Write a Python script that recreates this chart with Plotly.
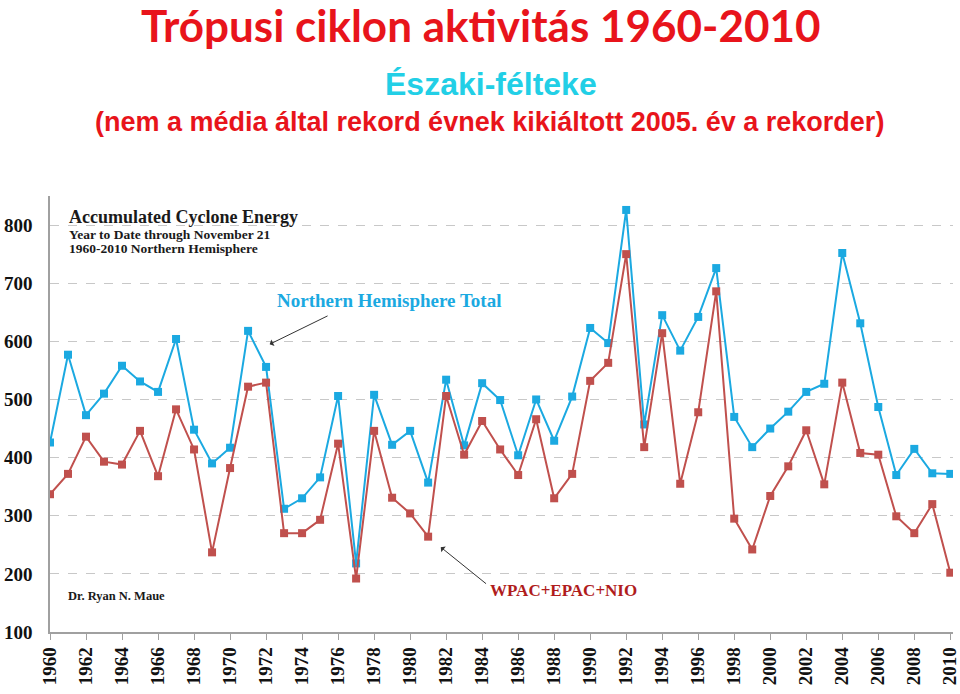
import plotly.graph_objects as go

years = list(range(1960, 2011))
nh_total = [426, 577, 473, 510, 558, 531, 513, 604, 448, 390,
            417, 618, 556, 312, 330, 366, 506, 218, 508, 422,
            446, 357, 534, 421, 528, 499, 404, 500, 429, 505,
            623, 597, 826, 457, 645, 584, 642, 726, 470, 418,
            450, 479, 513, 527, 752, 631, 487, 370, 415, 373, 372]
wpac_epac_nio = [337, 372, 436, 393, 388, 446, 368, 483, 414, 237,
                 382, 522, 529, 270, 270, 293, 424, 192, 446, 331,
                 304, 264, 506, 405, 463, 414, 370, 466, 330, 372,
                 532, 563, 750, 418, 614, 355, 478, 686, 295, 242,
                 334, 385, 447, 354, 529, 408, 405, 299, 270, 320, 202]
tick_years = list(range(1960, 2011, 2))
y_ticks = [100, 200, 300, 400, 500, 600, 700, 800]

BLUE = "#1BA9E1"
RED = "#C0504D"
SERIF = "Liberation Serif, DejaVu Serif, serif"

fig = go.Figure()
fig.add_trace(go.Scatter(x=years, y=nh_total, mode="lines+markers",
                         line=dict(color=BLUE, width=2),
                         marker=dict(symbol="square", size=8, color=BLUE),
                         name="Northern Hemisphere Total", showlegend=False))
fig.add_trace(go.Scatter(x=years, y=wpac_epac_nio, mode="lines+markers",
                         line=dict(color=RED, width=2),
                         marker=dict(symbol="square", size=8, color=RED),
                         name="WPAC+EPAC+NIO", showlegend=False))

# plot area: x 50..953, y 196..632 (pixels)
T, B = 196, 632
def py(pix):
    return (B - pix) / (B - T)

annotations = [
    dict(text="<b>Trópusi ciklon aktivitás 1960-2010</b>", x=0.477, xref="paper",
         y=py(25), yref="paper", showarrow=False, xanchor="center", yanchor="middle",
         font=dict(family="Lato, Open Sans, sans-serif", size=44, color="#E8141B")),
    dict(text="<b>Északi-félteke</b>", x=0.488, xref="paper",
         y=py(84), yref="paper", showarrow=False, xanchor="center", yanchor="middle",
         font=dict(family="Liberation Sans, Arial, sans-serif", size=32, color="#22CFE6")),
    dict(text="<b>(nem a média által rekord évnek kikiáltott 2005. év a rekorder)</b>", x=0.487, xref="paper",
         y=py(122), yref="paper", showarrow=False, xanchor="center", yanchor="middle",
         font=dict(family="Liberation Sans, Arial, sans-serif", size=27, color="#E8141B")),
    dict(text="<b>Accumulated Cyclone Energy</b>", x=1960.95, y=814, xanchor="left", yanchor="middle",
         showarrow=False, font=dict(family=SERIF, size=18, color="#1a1a1a")),
    dict(text="<b>Year to Date through November 21</b>", x=1960.95, y=784, xanchor="left", yanchor="middle",
         showarrow=False, font=dict(family=SERIF, size=13.5, color="#1a1a1a")),
    dict(text="<b>1960-2010 Northern Hemisphere</b>", x=1960.95, y=759, xanchor="left", yanchor="middle",
         showarrow=False, font=dict(family=SERIF, size=13.5, color="#1a1a1a")),
    dict(text="<b>Dr. Ryan N. Maue</b>", x=1960.9, y=162, xanchor="left", yanchor="middle",
         showarrow=False, font=dict(family=SERIF, size=12.5, color="#1a1a1a")),
    dict(text="<b>Northern Hemisphere Total</b>", x=1972.5, y=670, xanchor="left", yanchor="middle",
         showarrow=False, font=dict(family=SERIF, size=19, color="#1BA9E1")),
    dict(text="<b>WPAC+EPAC+NIO</b>", x=1984.3, y=171, xanchor="left", yanchor="middle",
         showarrow=False, font=dict(family=SERIF, size=17, color="#B01C1C")),
    dict(text="", x=1972.2, y=595, ax=1975.5, ay=645, axref="x", ayref="y",
         showarrow=True, arrowhead=1, arrowsize=1.2, arrowwidth=1, arrowcolor="#333333"),
    dict(text="", x=1981.7, y=246, ax=1984.3, ay=181, axref="x", ayref="y",
         showarrow=True, arrowhead=1, arrowsize=1.2, arrowwidth=1, arrowcolor="#333333"),
]

fig.update_layout(
    width=960, height=694,
    margin=dict(l=50, r=7, t=T, b=694 - B),
    paper_bgcolor="white", plot_bgcolor="white",
    annotations=annotations,
    xaxis=dict(range=[1960, 2010.15], tickmode="array", tickvals=tick_years,
               ticktext=[str(y) for y in tick_years], tickangle=-90,
               automargin=False, ticklabeloverflow="allow",
               showgrid=False, zeroline=False, showline=True, linecolor="#a0a0a0",
               linewidth=1.5, ticks="outside", ticklen=6, tickcolor="#a0a0a0",
               tickfont=dict(family=SERIF, size=19, color="#111111", weight="bold")),
    yaxis=dict(range=[100, 850], tickmode="array", tickvals=y_ticks,
               automargin=False, ticklabeloverflow="allow",
               showgrid=True, gridcolor="#c8c8c8", griddash="dash", gridwidth=1,
               zeroline=False, showline=True, linecolor="#a0a0a0", linewidth=1.5,
               ticks="", tickfont=dict(family=SERIF, size=19, color="#111111", weight="bold"),
               ticklabelstandoff=12),
)
fig.write_html("out.html")
